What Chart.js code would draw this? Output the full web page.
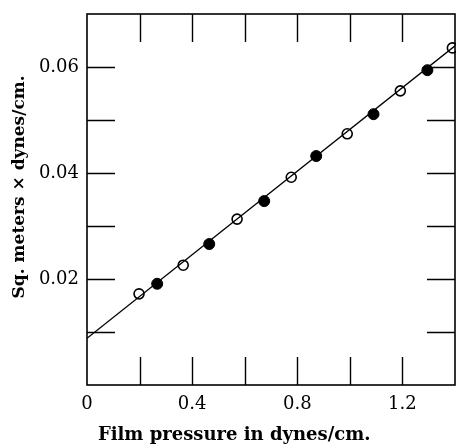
<!DOCTYPE html>
<html>
<head>
<meta charset="utf-8">
<script src="https://cdn.jsdelivr.net/npm/chart.js@4"></script>
<style>
    html, body { margin: 0; padding: 0; background: #fff; }
</style>
</head>
<body>
<canvas id="film_chart" width="456" height="445"></canvas>
<script>
// values
const openX = [0.198, 0.366, 0.571, 0.777, 0.990, 1.192, 1.390];
const openY = [0.0172, 0.0226, 0.0313, 0.0392, 0.0474, 0.0555, 0.0636];
const filledX = [0.267, 0.465, 0.674, 0.872, 1.090, 1.295];
const filledY = [0.0191, 0.0266, 0.0347, 0.0432, 0.0511, 0.0594];
const fitX = [0, 1.4];
const fitY = [0.0088, 0.0640];
const xLabels = [0, 0.4, 0.8, 1.2];
const yLabels = [0.02, 0.04, 0.06];
const xMarks = [0.2, 0.4, 0.6, 0.8, 1.0, 1.2];
const yMarks = [0.01, 0.02, 0.03, 0.04, 0.05, 0.06];
const xTitle = "Film pressure in dynes/cm.";
const yTitle = "Sq. meters \u00d7 dynes/cm.";

const toPoints = (xs, ys) => xs.map((x, i) => ({ x: x, y: ys[i] }));

// frame, inward tick marks on all four sides, axis titles
const frameTicks = {
    id: "frameTicks",
    afterDraw(chart) {
        const ctx = chart.ctx;
        const area = chart.chartArea;
        const xs = chart.scales.x;
        const ys = chart.scales.y;
        const len = 28;
        ctx.save();
        ctx.strokeStyle = "#000";
        ctx.lineWidth = 1.6;
        ctx.strokeRect(area.left, area.top, area.right - area.left, area.bottom - area.top);
        ctx.lineWidth = 1.4;
        ctx.beginPath();
        xMarks.forEach((v) => {
            const px = Math.round(xs.getPixelForValue(v)) + 0.5;
            ctx.moveTo(px, area.top);
            ctx.lineTo(px, area.top + len);
            ctx.moveTo(px, area.bottom);
            ctx.lineTo(px, area.bottom - len);
        });
        yMarks.forEach((v) => {
            const py = Math.round(ys.getPixelForValue(v)) + 0.5;
            ctx.moveTo(area.left, py);
            ctx.lineTo(area.left + len, py);
            ctx.moveTo(area.right, py);
            ctx.lineTo(area.right - len, py);
        });
        ctx.stroke();

        ctx.fillStyle = "#000";
        ctx.textAlign = "center";
        ctx.textBaseline = "middle";
        ctx.font = "bold 18px 'DejaVu Serif'";
        ctx.fillText(xTitle, area.left + (area.right - area.left) * 0.4, chart.height - 10);
        ctx.translate(20, area.top + (area.bottom - area.top) * 0.466);
        ctx.rotate(-Math.PI / 2);
        ctx.font = "bold 17px 'DejaVu Serif'";
        ctx.fillText(yTitle, 0, 0);
        ctx.restore();
    },
};

const ctx = document.getElementById("film_chart").getContext("2d");
const chart = new Chart(ctx, {
    type: "scatter",
    data: {
        datasets: [
            {
                type: "line",
                data: toPoints(fitX, fitY),
                borderColor: "#000",
                borderWidth: 1.3,
                pointRadius: 0,
                fill: false,
            },
            {
                data: toPoints(openX, openY),
                pointRadius: 5,
                pointBackgroundColor: "#fff",
                pointBorderColor: "#000",
                pointBorderWidth: 1.6,
                clip: false,
            },
            {
                data: toPoints(filledX, filledY),
                pointRadius: 5.5,
                pointBackgroundColor: "#000",
                pointBorderColor: "#000",
                pointBorderWidth: 1,
                clip: false,
            },
        ],
    },
    options: {
        responsive: false,
        animation: false,
        devicePixelRatio: 1,
        layout: {
            autoPadding: false,
            padding: { top: 14, right: 1, left: 0, bottom: 0 },
        },
        plugins: {
            legend: { display: false },
            tooltip: { enabled: false },
        },
        scales: {
            x: {
                type: "linear",
                min: 0,
                max: 1.4,
                afterFit(scale) {
                    scale.height = 60;
                    scale.paddingLeft = 0;
                    scale.paddingRight = 0;
                },
                afterBuildTicks(scale) {
                    scale.ticks = xLabels.map((v) => ({ value: v }));
                },
                grid: { display: false, drawTicks: false },
                border: { display: false },
                ticks: {
                    color: "#000",
                    padding: 9,
                    maxRotation: 0,
                    font: { family: "DejaVu Serif", size: 18 },
                    callback: (v) => (v === 0 ? "0" : v.toFixed(1)),
                },
            },
            y: {
                type: "linear",
                min: 0,
                max: 0.07,
                afterFit(scale) {
                    scale.width = 87;
                    scale.paddingTop = 0;
                    scale.paddingBottom = 0;
                },
                afterBuildTicks(scale) {
                    scale.ticks = yLabels.map((v) => ({ value: v }));
                },
                grid: { display: false, drawTicks: false },
                border: { display: false },
                ticks: {
                    color: "#000",
                    padding: 8,
                    font: { family: "DejaVu Serif", size: 18 },
                    callback: (v) => v.toFixed(2),
                },
            },
        },
    },
    plugins: [frameTicks],
});
</script>
</body>
</html>
